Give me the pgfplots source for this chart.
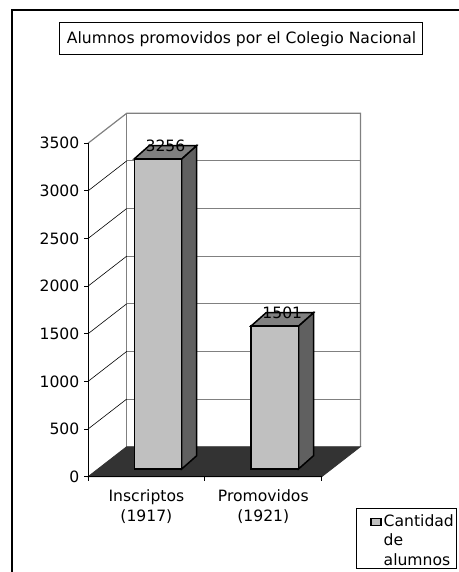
\documentclass[border=0pt]{standalone}
\usepackage{fontspec}
\setmainfont{DejaVu Sans}
\usepackage{pgfplots}
\pgfplotsset{compat=1.18}
\usepackage{pgfplotstable}

\definecolor{barfront}{HTML}{C0C0C0}
\definecolor{barside}{HTML}{606060}
\definecolor{bartop}{HTML}{808080}
\definecolor{floorc}{HTML}{333333}
\definecolor{wallgrid}{HTML}{808080}

% students per category (x = centre of the bar's front face)
\pgfplotstableread{
pos val
158.0 3256
274.8 1501
}\alumnos

\begin{document}
\begin{tikzpicture}[font=\fontsize{15.6}{19.6}\selectfont]
\begin{axis}[
  at={(0pt,0pt)}, anchor=south west,
  width=458pt, height=572pt, scale only axis,
  xmin=0, xmax=458, ymin=-1081.25, ymax=4923.37,
  axis lines=none, clip=false,
  /pgf/number format/assume math mode=true,
  /pgf/number format/1000 sep={},
]
% chart area frame
\draw[black, line width=1.2pt] (12,-1300) -- (12,4818.4) -- (470,4818.4);

% title box
\draw[black, line width=1pt] (59.3,4353.3) rectangle (422,4685.0);
\node[anchor=base, inner sep=0pt] at (241.6,4467.7) {Alumnos promovidos por el Colegio Nacional};

% back wall
\fill[white] (126.7,234.1) rectangle (360.4,3734);
\draw[wallgrid, line width=1pt] (126.7,734.1) -- (360.4,734.1);
\draw[wallgrid, line width=1pt] (126.7,1234.1) -- (360.4,1234.1);
\draw[wallgrid, line width=1pt] (126.7,1734.1) -- (360.4,1734.1);
\draw[wallgrid, line width=1pt] (126.7,2234.1) -- (360.4,2234.1);
\draw[wallgrid, line width=1pt] (126.7,2734.1) -- (360.4,2734.1);
\draw[wallgrid, line width=1pt] (126.7,3234.1) -- (360.4,3234.1);
\draw[wallgrid, line width=1.2pt] (88,3419.2) -- (126.7,3734) -- (360.4,3734) -- (360.4,234.1);
\draw[wallgrid, line width=1.2pt] (126.7,234.1) -- (126.7,3734);

% side wall gridlines
\draw[black, line width=0.6pt] (88,419.2) -- (126.7,734.1);
\draw[black, line width=0.6pt] (88,919.2) -- (126.7,1234.1);
\draw[black, line width=0.6pt] (88,1419.2) -- (126.7,1734.1);
\draw[black, line width=0.6pt] (88,1919.2) -- (126.7,2234.1);
\draw[black, line width=0.6pt] (88,2419.2) -- (126.7,2734.1);
\draw[black, line width=0.6pt] (88,2919.2) -- (126.7,3234.1);

% floor
\filldraw[fill=floorc, draw=floorc, line width=0.8pt] (88,-80.8) -- (321.7,-80.8) -- (360.4,234.1) -- (126.7,234.1) -- cycle;

% value axis and category axis
\draw[black, line width=1pt] (88,3419.2) -- (88,-80.8) -- (321.7,-80.8);
\draw[black, line width=1pt] (84,-80.8) -- (88,-80.8);
\draw[black, line width=1pt] (84,419.2) -- (88,419.2);
\draw[black, line width=1pt] (84,919.2) -- (88,919.2);
\draw[black, line width=1pt] (84,1419.2) -- (88,1419.2);
\draw[black, line width=1pt] (84,1919.2) -- (88,1919.2);
\draw[black, line width=1pt] (84,2419.2) -- (88,2419.2);
\draw[black, line width=1pt] (84,2919.2) -- (88,2919.2);
\draw[black, line width=1pt] (84,3419.2) -- (88,3419.2);
\draw[black, line width=1pt] (88,-80.8) -- (88,-122.8);
\draw[black, line width=1pt] (204.85,-80.8) -- (204.85,-122.8);
\draw[black, line width=1pt] (321.7,-80.8) -- (321.7,-122.8);

\node[anchor=east, inner sep=0pt] at (79.5,-80.8) {0};
\node[anchor=east, inner sep=0pt] at (79.5,419.2) {500};
\node[anchor=east, inner sep=0pt] at (79.5,919.2) {1000};
\node[anchor=east, inner sep=0pt] at (79.5,1419.2) {1500};
\node[anchor=east, inner sep=0pt] at (79.5,1919.2) {2000};
\node[anchor=east, inner sep=0pt] at (79.5,2419.2) {2500};
\node[anchor=east, inner sep=0pt] at (79.5,2919.2) {3000};
\node[anchor=east, inner sep=0pt] at (79.5,3419.2) {3500};

\node[anchor=base, inner sep=0pt] at (146.4,-343.3) {Inscriptos};
\node[anchor=base, inner sep=0pt] at (146.4,-549.0) {(1917)};
\node[anchor=base, inner sep=0pt] at (263.3,-343.3) {Promovidos};
\node[anchor=base, inner sep=0pt] at (263.3,-549.0) {(1921)};

% bar sides
\addplot[fill=barside, draw=black, line width=1.5pt] coordinates {(181.7,0) (196.7,139.6) (196.7,3395.6) (181.7,3256)} -- cycle;
\addplot[fill=barside, draw=black, line width=1.5pt] coordinates {(298.5,0) (313.5,139.6) (313.5,1640.6) (298.5,1501)} -- cycle;
% bar tops
\addplot[fill=bartop, draw=black, line width=1.5pt] coordinates {(134.3,3256) (181.7,3256) (196.7,3395.6) (149.3,3395.6)} -- cycle;
\addplot[fill=bartop, draw=black, line width=1.5pt] coordinates {(251.1,1501) (298.5,1501) (313.5,1640.6) (266.1,1640.6)} -- cycle;
% bar fronts with value labels
\addplot[ybar, bar width=47.4, fill=barfront, draw=black, line width=1.5pt,
  nodes near coords,
  nodes near coords style={anchor=center, xshift=7.5pt, yshift=13.3pt, inner sep=0pt, text=black}]
  table[x=pos, y=val] {\alumnos};

% legend
\filldraw[fill=white, draw=black, line width=1pt] (356,-412.6) rectangle (456.3,-1042.4);
\filldraw[fill=barfront, draw=black, line width=1.3pt] (371,-595.2) rectangle (381,-517.5);
\node[anchor=base west, inner sep=0pt] at (383.5,-598.4) {Cantidad};
\node[anchor=base west, inner sep=0pt] at (383.5,-804.2) {de};
\node[anchor=base west, inner sep=0pt] at (383.5,-1009.9) {alumnos};
\end{axis}
\pgfresetboundingbox
\path[use as bounding box] (0pt,0pt) rectangle (458pt,572pt);
\end{tikzpicture}
\end{document}
